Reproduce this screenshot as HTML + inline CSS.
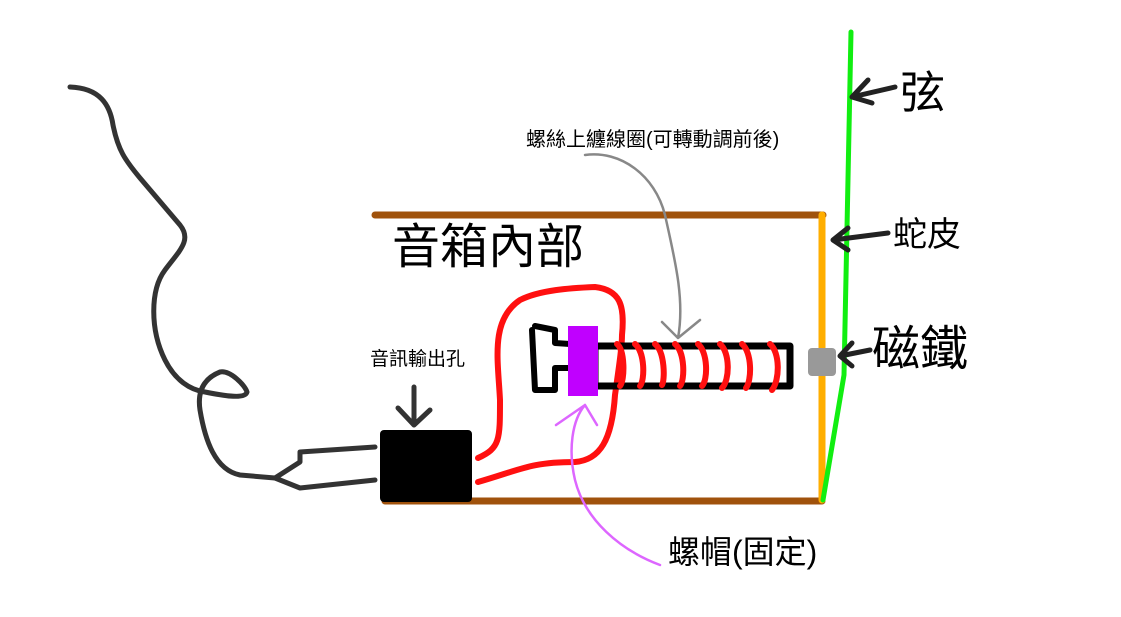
<!DOCTYPE html>
<html><head><meta charset="utf-8"><style>
html,body{margin:0;padding:0;background:#fff;width:1121px;height:617px;overflow:hidden}
text{font-family:"Liberation Sans","Noto Sans CJK TC",sans-serif}
</style></head><body>
<svg width="1121" height="617" viewBox="0 0 1121 617" xmlns="http://www.w3.org/2000/svg" fill="none" stroke-linecap="round" stroke-linejoin="round">
<path d="M70,87 C100,88 110,105 113,125 C118,150 125,160 140,178 L180,225 C192,240 180,250 165,270 C150,290 150,330 165,360 C175,380 190,390 205,392 C220,395 245,400 247,392 C245,385 230,370 220,372 C205,378 197,390 200,410 C205,440 215,470 240,475 L275,478" stroke="#333" stroke-width="5"/>
<path d="M275,478 L300,462 L300,452 L375,447 M275,478 L300,488 L375,480" stroke="#333" stroke-width="5"/>
<line x1="375" y1="215" x2="823" y2="215" stroke="#a0520c" stroke-width="7"/>
<line x1="385" y1="501" x2="822" y2="501" stroke="#a0520c" stroke-width="7"/>
<line x1="822" y1="215" x2="822" y2="500" stroke="#ffae00" stroke-width="7"/>
<path d="M851,32 L844,375 L823,500" stroke="#11ee11" stroke-width="5"/>
<rect x="808" y="348" width="28" height="28" rx="4" fill="#999"/>
<rect x="380" y="430" width="92" height="72" rx="4" fill="#000"/>
<path d="M414,387 L414,425 M398,408 L414,425 L430,410" stroke="#333" stroke-width="5"/>
<path d="M478,458 C500,448 500,440 500,400 C498,360 490,320 520,300 C540,290 570,288 595,287 C620,290 625,305 622,335 C622,345 620,360 615,395 C612,440 600,460 575,462 C530,462 520,470 478,482" stroke="#ff1010" stroke-width="6"/>
<path d="M535,326 L555,330 L555,343 L570,344 M570,368 L555,368 L555,390 L535,390 L532,330" stroke="#000" stroke-width="6"/>
<rect x="595" y="346" width="195" height="40" stroke="#000" stroke-width="7"/>
<rect x="568" y="326" width="30" height="70" fill="#c000ff"/>
<g stroke="#ff1010" stroke-width="6">
<path d="M617,344 C625,350 625,380 620,386"/>
<path d="M635,344 C645,352 645,380 640,386"/>
<path d="M655,344 C665,352 665,380 662,385"/>
<path d="M675,344 C685,352 685,380 680,386"/>
<path d="M698,344 C708,352 708,380 702,386"/>
<path d="M720,344 C730,352 730,380 722,388"/>
<path d="M742,344 C752,352 752,380 746,388"/>
<path d="M770,344 C780,352 780,380 772,390"/>
</g>
<path d="M585,155 C620,150 655,175 665,215 C675,260 685,300 678,338 M662,322 L678,338 L700,320" stroke="#888" stroke-width="2.5"/>
<path d="M660,565 C620,550 585,520 575,480 C568,450 572,420 585,405 M556,425 L585,405 L597,425" stroke="#dd66ff" stroke-width="2.5"/>
<path d="M895,87 L852,97 M868,80 L852,97 L872,103" stroke="#222" stroke-width="5"/>
<path d="M888,233 L833,240 M848,228 L833,240 L848,250" stroke="#222" stroke-width="5"/>
<path d="M870,350 L840,356 M852,343 L840,356 L852,366" stroke="#222" stroke-width="5"/>
<g fill="#000" stroke="none">
<text x="900" y="108" font-size="45">弦</text>
<text x="893" y="246" font-size="34">蛇皮</text>
<text x="872" y="365" font-size="48">磁鐵</text>
<text x="392" y="263" font-size="48">音箱內部</text>
<text x="370" y="365" font-size="19">音訊輸出孔</text>
<text x="526" y="146" font-size="20">螺絲上纏線圈(可轉動調前後)</text>
<text x="668" y="563" font-size="32">螺帽(固定)</text>
</g>
</svg>
</body></html>
